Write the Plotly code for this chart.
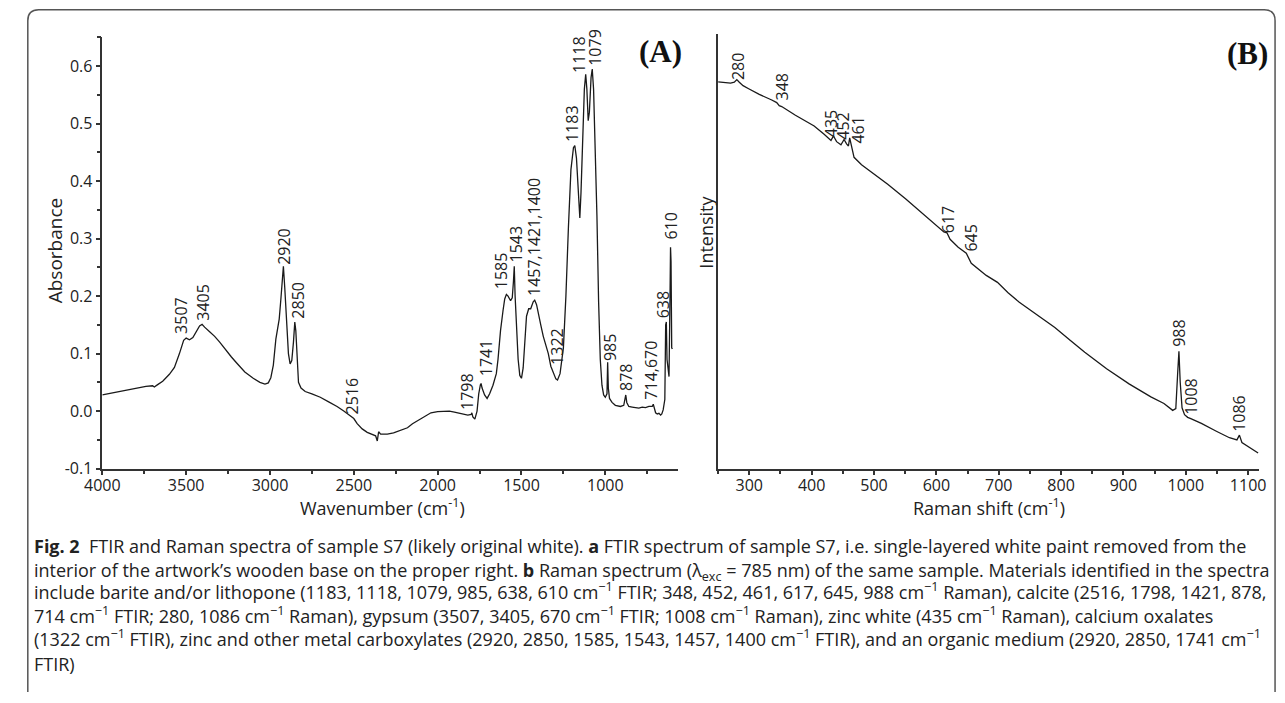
import plotly.graph_objects as go

W, H = 1285, 703

# ---------------- data ----------------
ftir_wn = [4000, 3900, 3800, 3740, 3700, 3690, 3670, 3640, 3600, 3570, 3540, 3515, 3500, 3480, 3460,
           3440, 3420, 3405, 3390, 3360, 3330, 3300, 3260, 3230, 3200, 3150, 3100, 3060, 3030, 3010,
           2995, 2980, 2965, 2955, 2945, 2935, 2925, 2920, 2912, 2900, 2890, 2880, 2870, 2860, 2852,
           2846, 2838, 2830, 2815, 2790, 2750, 2700, 2650, 2600, 2560, 2530, 2516, 2500, 2480, 2450,
           2420, 2390, 2370, 2360, 2352, 2340, 2300, 2263, 2220, 2180, 2150, 2100, 2060, 2040, 2000,
           1960, 1930, 1900, 1860, 1820, 1800, 1796, 1790, 1778, 1765, 1755, 1745, 1741, 1735, 1720,
           1705, 1690, 1670, 1650, 1640, 1625, 1610, 1600, 1590, 1580, 1565, 1555, 1548, 1543, 1538,
           1530, 1520, 1510, 1500, 1490, 1480, 1470, 1457, 1445, 1430, 1421, 1410, 1400, 1385, 1370,
           1355, 1340, 1325, 1310, 1295, 1285, 1270, 1250, 1235, 1220, 1205, 1190, 1182, 1172, 1160,
           1152, 1145, 1135, 1125, 1117, 1110, 1102, 1095, 1085, 1078, 1070, 1060, 1050, 1040, 1030,
           1020, 1010, 1000, 990, 986, 982, 975, 960, 940, 910, 890, 882, 878, 872, 860,
           840, 820, 800, 780, 760, 740, 720, 714, 708, 700, 690, 680, 670, 663, 655,
           645, 640, 636, 632, 626, 620, 614, 611, 608, 604, 600]
ftir_abs = [0.028, 0.034, 0.040, 0.043, 0.044, 0.042, 0.046, 0.052, 0.064, 0.076, 0.100, 0.123, 0.127, 0.124, 0.128,
            0.138, 0.148, 0.151, 0.146, 0.138, 0.130, 0.120, 0.104, 0.094, 0.084, 0.068, 0.057, 0.050, 0.047, 0.049,
            0.058, 0.080, 0.125, 0.145, 0.160, 0.195, 0.240, 0.252, 0.215, 0.150, 0.100, 0.082, 0.088, 0.120, 0.155,
            0.140, 0.080, 0.050, 0.040, 0.034, 0.030, 0.024, 0.016, 0.008, 0.000, -0.007, -0.010, -0.013, -0.022, -0.031,
            -0.037, -0.041, -0.043, -0.052, -0.036, -0.040, -0.040, -0.038, -0.034, -0.029, -0.022, -0.013, -0.006, -0.003, -0.001,
            0.000, 0.000, -0.002, -0.005, -0.007, -0.006, -0.003, -0.010, -0.014, 0.000, 0.030, 0.046, 0.048, 0.040, 0.028,
            0.022, 0.030, 0.045, 0.065, 0.090, 0.140, 0.175, 0.195, 0.203, 0.200, 0.192, 0.197, 0.225, 0.252, 0.200,
            0.140, 0.090, 0.062, 0.057, 0.075, 0.130, 0.165, 0.178, 0.178, 0.190, 0.193, 0.185, 0.168, 0.150, 0.130,
            0.115, 0.100, 0.078, 0.065, 0.056, 0.054, 0.065, 0.110, 0.200, 0.320, 0.420, 0.458, 0.462, 0.440, 0.370,
            0.336, 0.380, 0.480, 0.560, 0.586, 0.560, 0.505, 0.520, 0.580, 0.595, 0.560, 0.470, 0.340, 0.190, 0.090,
            0.045, 0.028, 0.024, 0.030, 0.085, 0.040, 0.022, 0.015, 0.010, 0.008, 0.010, 0.022, 0.028, 0.015, 0.008,
            0.007, 0.006, 0.005, 0.007, 0.006, 0.008, 0.008, 0.012, 0.004, -0.003, -0.005, -0.004, -0.007, -0.005, 0.002,
            0.020, 0.150, 0.155, 0.090, 0.075, 0.060, 0.200, 0.285, 0.260, 0.110, 0.108]

raman_shift = [250, 260, 270, 276, 280, 284, 290, 299, 316, 336, 344, 348, 352, 374, 390,
               404, 420, 431, 435, 440, 447, 452, 456, 459, 461, 464, 468, 480, 492, 522,
               551, 580, 600, 612, 617, 622, 635, 645, 648, 656, 680, 698, 715, 733, 756,
               790, 815, 838, 873, 909, 944, 965, 979, 984, 987, 989, 991, 994, 998, 1003,
               1008, 1025, 1049, 1070, 1082, 1086, 1090, 1100, 1116]
raman_int = [89.1, 89.0, 88.8, 89.0, 89.6, 89.0, 88.2, 87.5, 86.2, 84.9, 84.3, 83.6, 83.4, 81.4, 80.0,
             78.9, 77.0, 75.6, 76.6, 75.3, 74.6, 75.8, 74.8, 74.3, 76.2, 74.0, 71.7, 70.0, 68.7, 65.5,
             62.1, 58.5, 56.0, 54.5, 54.3, 52.8, 51.0, 49.8, 49.6, 47.3, 44.5, 42.9, 40.5, 38.3, 36.0,
             32.5, 29.5, 26.8, 23.0, 19.5, 16.5, 15.0, 13.4, 13.8, 22.0, 27.0, 20.0, 14.0, 12.4, 11.8,
             11.5, 10.4, 8.6, 7.1, 6.6, 7.7, 6.0, 5.0, 3.6]

ftir_xticks = [4000, 3500, 3000, 2500, 2000, 1500, 1000]
ftir_xticklabels = ["4000", "3500", "3000", "2500", "2000", "1500", "1000"]
ftir_yticks = [-0.1, 0.0, 0.1, 0.2, 0.3, 0.4, 0.5, 0.6]
ftir_yticklabels = ["-0.1", "0.0", "0.1", "0.2", "0.3", "0.4", "0.5", "0.6"]
raman_xticks = [300, 400, 500, 600, 700, 800, 900, 1000, 1100]
raman_xticklabels = ["300", "400", "500", "600", "700", "800", "900", "1000", "1100"]

ftir_peak_labels = ["3507", "3405", "2920", "2850", "2516", "1798", "1741", "1585", "1543",
                    "1457,1421,1400", "1322", "1183", "1118", "1079", "985", "878", "714,670", "638", "610"]
raman_peak_labels = ["280", "348", "435", "452", "461", "617", "645", "988", "1008", "1086"]

# label anchor positions (x in data units, bottom y in data units)
ftir_label_pos = [(3532, 0.133), (3398, 0.155), (2918, 0.253), (2830, 0.159), (2509, -0.008),
                  (1825, 0.001), (1714, 0.059), (1626, 0.210), (1532, 0.256), (1421, 0.198),
                  (1287, 0.078), (1199, 0.467), (1158, 0.587), (1058, 0.599), (976, 0.085),
                  (877, 0.034), (725, 0.018), (655, 0.159), (608, 0.296)]
raman_label_pos = [(283, 89.3), (352, 84.6), (431, 76.2), (451, 75.5), (475, 74.6),
                   (618, 54.0), (656, 49.7), (989, 27.9), (1008, 12.2), (1086, 8.2)]

# ---------------- figure ----------------
def fx(p):
    return p / W

def fy(p):
    return 1 - p / H

LINE = "#1a1a1a"
AX = "#333333"
FONT = "Open Sans"
TXT = "#222222"

fig = go.Figure()
fig.add_trace(go.Scatter(x=ftir_wn, y=ftir_abs, mode="lines", line=dict(color=LINE, width=1.3),
                         xaxis="x", yaxis="y", showlegend=False, hoverinfo="skip"))
fig.add_trace(go.Scatter(x=raman_shift, y=raman_int, mode="lines", line=dict(color=LINE, width=1.3),
                         xaxis="x2", yaxis="y2", showlegend=False, hoverinfo="skip"))

common = dict(showgrid=False, zeroline=False, showline=True, linecolor=AX, linewidth=1.5,
              ticks="outside", ticklen=5, tickwidth=1.5, tickcolor=AX,
              tickfont=dict(family=FONT, size=16, color=TXT))

fig.update_layout(
    width=W, height=H, margin=dict(l=0, r=0, t=0, b=0),
    paper_bgcolor="white", plot_bgcolor="white",
    xaxis=dict(domain=[fx(86), fx(673)], range=[4000, 567], anchor="y",
               tickmode="array", tickvals=ftir_xticks, ticktext=ftir_xticklabels, ticklabelstandoff=-4,
               minor=dict(tickvals=[3750, 3250, 2750, 2250, 1750, 1250, 750], ticks="outside",
                          ticklen=4, tickwidth=1.5, tickcolor=AX),
               **common),
    yaxis=dict(domain=[fy(476), fy(38)], range=[-0.1, 0.65], anchor="x",
               tickmode="array", tickvals=ftir_yticks, ticktext=ftir_yticklabels,
               minor=dict(tickvals=[-0.05, 0.05, 0.15, 0.25, 0.35, 0.45, 0.55, 0.65], ticks="outside",
                          ticklen=4, tickwidth=1.5, tickcolor=AX),
               **common),
    xaxis2=dict(domain=[fx(714), fx(1266)], range=[250, 1118], anchor="y2",
                tickmode="array", tickvals=raman_xticks, ticktext=raman_xticklabels, ticklabelstandoff=-4,
                minor=dict(tickvals=[250, 350, 450, 550, 650, 750, 850, 950, 1050], ticks="outside",
                           ticklen=4, tickwidth=1.5, tickcolor=AX),
                **common),
    yaxis2=dict(domain=[fy(476), fy(35)], range=[0, 100], anchor="x2",
                showgrid=False, zeroline=False, showline=True, linecolor=AX, linewidth=1.5,
                ticks="", showticklabels=False),
)

ann = []
for lab, (xv, yv) in zip(ftir_peak_labels, ftir_label_pos):
    ann.append(dict(x=xv, y=yv, xref="x", yref="y", text=lab, textangle=-90, showarrow=False,
                    xanchor="center", yanchor="bottom", font=dict(family=FONT, size=16, color=TXT),
                    borderpad=0))
for lab, (xv, yv) in zip(raman_peak_labels, raman_label_pos):
    ann.append(dict(x=xv, y=yv, xref="x2", yref="y2", text=lab, textangle=-90, showarrow=False,
                    xanchor="center", yanchor="bottom", font=dict(family=FONT, size=16, color=TXT),
                    borderpad=0))

def paper_text(px, py, text, size, family=FONT, angle=0, color=TXT):
    return dict(x=fx(px), y=fy(py), xref="paper", yref="paper", text=text, textangle=angle,
                showarrow=False, xanchor="center", yanchor="middle",
                font=dict(family=family, size=size, color=color))

# axis titles
ann.append(paper_text(372, 515, "Wavenumber (cm<sup>-1</sup>)", 18))
ann.append(paper_text(990, 515, "Raman shift (cm<sup>-1</sup>)", 18))
ann.append(paper_text(38, 254, "Absorbance", 19, angle=-90))
ann.append(paper_text(702, 236, "Intensity", 18, angle=-90))
# panel letters
ann.append(paper_text(655, 52, "<b>(A)</b>", 31, family="Liberation Serif", color="#111"))
ann.append(paper_text(1254, 54, "<b>(B)</b>", 31, family="Liberation Serif", color="#111"))

# caption: one annotation per line; lines holding a superscript / subscript get a
# small vertical correction so the baselines end up evenly spaced
cm = "cm<sup>−1</sup>"
caption_lines = [
    "<b>Fig. 2</b>\u00a0 FTIR and Raman spectra of sample S7 (likely original white). <b>a</b> FTIR spectrum of sample S7, i.e. single-layered white paint removed from the",
    "interior of the artwork’s wooden base on the proper right. <b>b</b> Raman spectrum (λ<sub>exc</sub> = 785 nm) of the same sample. Materials identified in the spectra",
    f"include barite and/or lithopone (1183, 1118, 1079, 985, 638, 610 {cm} FTIR; 348, 452, 461, 617, 645, 988 {cm} Raman), calcite (2516, 1798, 1421, 878,",
    f"714 {cm} FTIR; 280, 1086 {cm} Raman), gypsum (3507, 3405, 670 {cm} FTIR; 1008 {cm} Raman), zinc white (435 {cm} Raman), calcium oxalates",
    f"(1322 {cm} FTIR), zinc and other metal carboxylates (2920, 2850, 1585, 1543, 1457, 1400 {cm} FTIR), and an organic medium (2920, 2850, 1741 {cm}",
    "FTIR)",
]
CAP_SIZE = 18
for i, line in enumerate(caption_lines):
    yy = 555 + 24 * i
    if "<sup>" in line:
        yy -= 0.14 * CAP_SIZE
    if "<sub>" in line:
        yy += 0.11 * CAP_SIZE
    ann.append(dict(x=fx(15), y=fy(yy), xref="paper", yref="paper", text=line, showarrow=False,
                    xanchor="left", yanchor="middle", borderpad=0,
                    font=dict(family=FONT, size=CAP_SIZE, color=TXT)))

fig.update_layout(annotations=ann)

# rounded frame
r = 11
path = (f"M {fx(10)},{fy(703)} L {fx(10)},{fy(10 + r)} Q {fx(10)},{fy(10)} {fx(10 + r)},{fy(10)} "
        f"L {fx(1282 - r)},{fy(10)} Q {fx(1282)},{fy(10)} {fx(1282)},{fy(10 + r)} L {fx(1282)},{fy(703)}")
fig.add_shape(type="path", path=path, xref="paper", yref="paper", line=dict(color="#555", width=1.5))

fig.write_html("out.html")
